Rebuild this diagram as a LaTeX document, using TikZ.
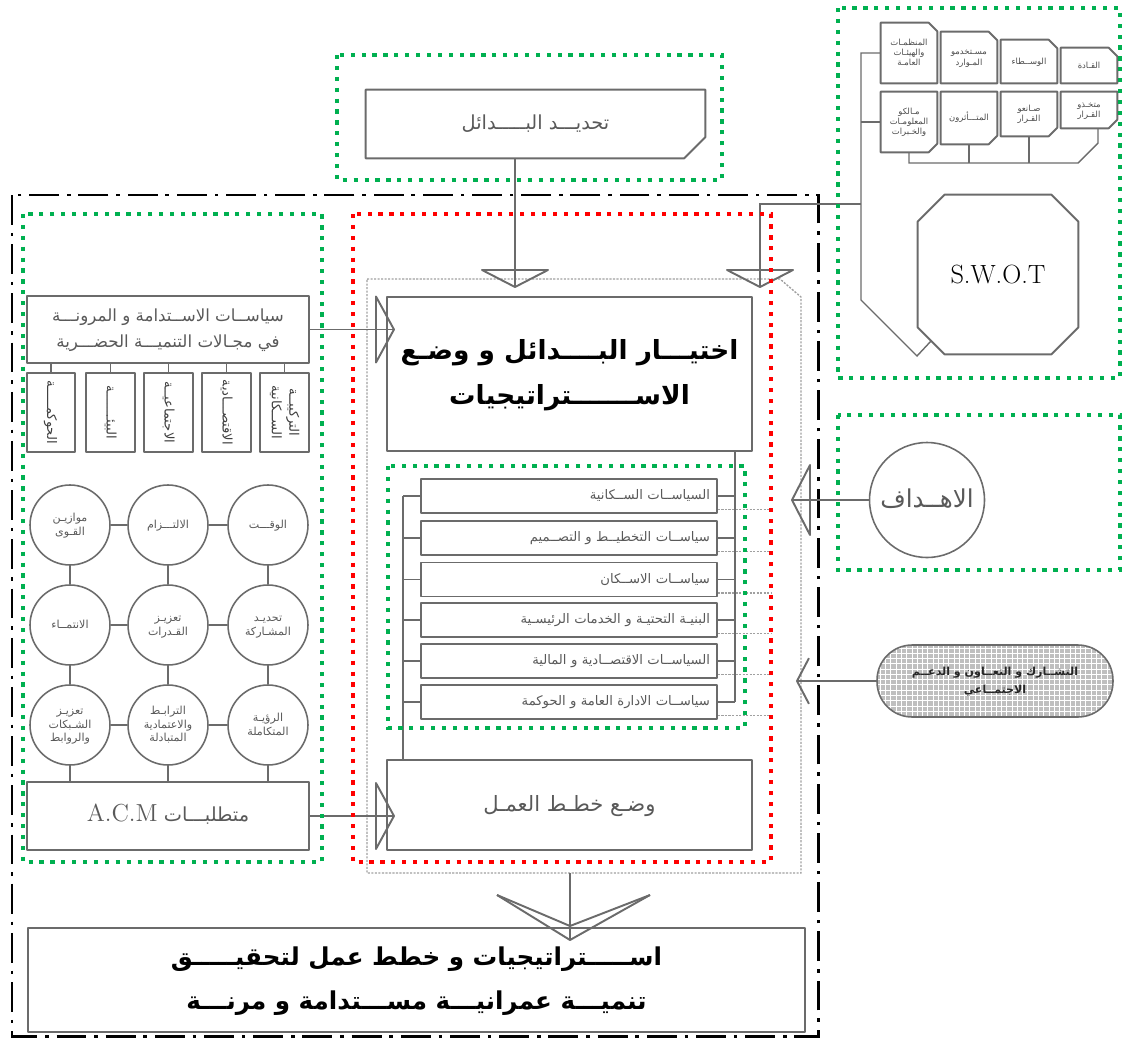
\documentclass[tikz,border=0pt]{standalone}
\usepackage{fontspec}
\newfontfamily\arabicfont[Script=Arabic]{DejaVu Sans}
\TeXXeTstate=1
\usepackage{tikz}
\usetikzlibrary{calc,fit,patterns}
\definecolor{stroke}{HTML}{6B6B6B}
\definecolor{ink}{HTML}{595959}
\definecolor{grn}{HTML}{00B050}
\definecolor{redd}{HTML}{FF0000}
\definecolor{dim}{HTML}{A0A0A0}
\newcommand{\artxt}[1]{\raisebox{0pt}[0.72em][0.12em]{\arabicfont\beginR #1\endR}}
\newcommand{\cutse}[2]{\draw[base] (#1.north west) -- (#1.north east) -- ([yshift=#2]#1.south east) -- ([xshift=-#2]#1.south east) -- (#1.south west) -- cycle;}
\newcommand{\cutne}[2]{\draw[base] (#1.south west) -- (#1.north west) -- ([xshift=-#2]#1.north east) -- ([yshift=-#2]#1.north east) -- (#1.south east) -- cycle;}
\tikzset{
  base/.style={draw=stroke, line width=1.1pt, line join=round},
  thin/.style={draw=stroke, line width=0.8pt},
  box/.style={base, rectangle, inner sep=0pt},
  plain/.style={rectangle, inner sep=0pt},
  zone/.style={draw=grn, line width=2.4pt, dash pattern=on 2.4pt off 3.8pt},
  zonered/.style={zone, draw=redd},
  frame/.style={draw=black, line width=1.7pt, dash pattern=on 17pt off 4.5pt on 2pt off 4.5pt},
  help/.style={draw=dim, line width=0.8pt, dash pattern=on 1.2pt off 0.8pt},
  lab/.style={text=ink, align=center, font=\fontsize{8}{10}\selectfont},
  labs/.style={text=ink, align=center, font=\fontsize{6.3}{7.6}\selectfont},
  labt/.style={text=black!70, align=center, font=\fontsize{4.8}{5.8}\selectfont},
  head/.style={text=black, align=center, font=\bfseries\fontsize{14}{25}\selectfont},
  circ/.style={circle, draw=stroke, line width=0.9pt, minimum size=1.6cm, inner sep=0pt, labs},
  pol/.style={base, rectangle, minimum width=5.92cm, minimum height=0.68cm, inner ysep=0pt, inner xsep=0.14cm,
    text width=5.64cm, align=right, text=ink, font=\fontsize{7.5}{9}\selectfont},
}

\begin{document}
\begin{tikzpicture}[x=0.02cm, y=-0.02cm]
  \useasboundingbox (0,0) rectangle (1123,1038);
  \draw[frame] (12,195) rectangle (818,1036);
  \draw[help] (367,279) -- (780,279) -- (801,297) -- (801,873) -- (367,873) -- cycle;

  % alternatives
  \node[plain, lab, font=\fontsize{11}{13}\selectfont, minimum width=6.78cm, minimum height=1.36cm] (alt) at (535.5,124)
    {\artxt{تحديـــد البـــــدائل}};
  \cutse{alt}{12pt}

  % SWOT
  \node[plain, font=\fontsize{15}{18}\selectfont, minimum width=3.2cm, minimum height=3.18cm] (swot) at (998,274.5) {S.W.O.T};
  \draw[base] ([xshift=15.3pt]swot.north west) -- ([xshift=-15.3pt]swot.north east) -- ([yshift=-15.3pt]swot.north east)
    -- ([yshift=15.3pt]swot.south east) -- ([xshift=-15.3pt]swot.south east) -- ([xshift=15.3pt]swot.south west)
    -- ([yshift=15.3pt]swot.south west) -- ([yshift=-15.3pt]swot.north west) -- cycle;
  \node[plain, labt, minimum width=1.12cm, minimum height=1.2cm] (s1) at (909,53) {\artxt{المنظمـات}\\\artxt{والهيئـات}\\\artxt{العامـة}};
  \node[plain, labt, minimum width=1.12cm, minimum height=1.02cm] (s2) at (969,57.5) {\artxt{مسـتخدمو}\\\artxt{المـوارد}};
  \node[plain, labt, minimum width=1.12cm, minimum height=0.86cm] (s3) at (1029,61.5) {\artxt{الوســطاء}};
  \node[plain, labt, minimum width=1.12cm, minimum height=0.7cm] (s4) at (1089,65.5) {\artxt{القـادة}};
  \node[plain, labt, minimum width=1.12cm, minimum height=1.2cm] (s5) at (909,122) {\artxt{مـالكو}\\\artxt{المعلومـات}\\\artxt{والخـبرات}};
  \node[plain, labt, minimum width=1.12cm, minimum height=1.04cm] (s6) at (969,118) {\artxt{المتـــأثرون}};
  \node[plain, labt, minimum width=1.12cm, minimum height=0.88cm] (s7) at (1029,114) {\artxt{صـانعو}\\\artxt{القـرار}};
  \node[plain, labt, minimum width=1.12cm, minimum height=0.72cm] (s8) at (1089,110) {\artxt{متخـذو}\\\artxt{القـرار}};
  \foreach \n in {s1,s2,s3,s4} {\cutne{\n}{5pt}}
  \foreach \n in {s5,s6,s7,s8} {\cutse{\n}{5pt}}
  \coordinate (sj) at (861,204);
  \draw[thin] (s1.west) -- (s1.west -| sj) -- (sj |- 0,300) -- (917,356) -- ([xshift=7.6pt,yshift=7.6pt]swot.south west);
  \draw[thin] (s5.west) -- (s5.west -| sj);
  \draw[thin] (s5.south) -- (s5.south |- 0,163) -- (1078,163) -- (1098,143) -- (s8.south -| 1098,0);
  \draw[thin] (s6.south) -- (s6.south |- 0,163);
  \draw[thin] (s7.south) -- (s7.south |- 0,163);

  % choosing and strategies
  \coordinate (ta) at (515,287);
  \coordinate (tb) at (760,287);
  \draw[thin] (alt.south -| ta) -- (ta);
  \draw[thin] (sj) -- (sj -| tb) -- (tb);
  \draw[base] (ta) -- ++(-33,-17) -- ++(66,0) -- cycle;
  \draw[base] (tb) -- ++(-33,-17) -- ++(66,0) -- cycle;
  \node[box, head, font=\bfseries\fontsize{15}{26}\selectfont, minimum width=7.3cm, minimum height=3.08cm] (choose) at (569.5,374)
    {\artxt{اختيـــار البــــدائل و وضـع}\\\artxt{الاســـــــتراتيجيات}};

  \node[pol] (p1) at (569,496) {\artxt{السياســات الســكانية}};
  \node[pol] (p2) at (569,538) {\artxt{سياســات التخطيــط و التصــميم}};
  \node[pol] (p3) at (569,579.5) {\artxt{سياســات الاســكان}};
  \node[pol] (p4) at (569,620) {\artxt{البنيـة التحتيـة و الخدمات الرئيسـية}};
  \node[pol] (p5) at (569,661) {\artxt{السياســات الاقتصــادية و المالية}};
  \node[pol] (p6) at (569,702) {\artxt{سياســات الادارة العامة و الحوكمة}};
  \node[box, lab, font=\fontsize{12}{14}\selectfont, minimum width=7.3cm, minimum height=1.8cm] (plan) at (569.5,805)
    {\artxt{وضـع خطـط العمـل}};
  \coordinate (bl) at (403,0);
  \coordinate (br) at (735,0);
  \draw[thin] (p1.west -| bl) -- (plan.north -| bl);
  \draw[thin] (choose.south -| br) -- (p6.east -| br);
  \foreach \i in {1,...,6} {
    \draw[thin] (p\i.west) -- (p\i.west -| bl);
    \draw[thin] (p\i.east) -- (p\i.east -| br);
    \draw[help] ([yshift=2.5pt]p\i.south east) -- ++(53,0);
  }

  % sustainability side
  \node[box, lab, font=\fontsize{9.5}{15}\selectfont, minimum width=5.64cm, minimum height=1.34cm] (sust) at (168,329.5)
    {\artxt{سياســات الاســتدامة و المرونـــة}\\\artxt{في مجـالات التنميـــة الحضـــرية}};
  \node[box, fit={(27,373) (75,452)}] (v1) {};
  \node[box, fit={(86,373) (135,452)}] (v2) {};
  \node[box, fit={(144,373) (193,452)}] (v3) {};
  \node[box, fit={(202,373) (251,452)}] (v4) {};
  \node[box, fit={(260,373) (309,452)}] (v5) {};
  \node[labs, text=black!75, font=\fontsize{7.5}{10}\selectfont, rotate=-90] at (v1) {\artxt{الحوكمـــــة}};
  \node[labs, text=black!75, font=\fontsize{7.5}{10}\selectfont, rotate=-90] at (v2) {\artxt{البيئـــــــة}};
  \node[labs, text=black!75, font=\fontsize{7.5}{10}\selectfont, rotate=-90] at (v3) {\artxt{الاجتماعيــة}};
  \node[labs, text=black!75, font=\fontsize{7.5}{10}\selectfont, rotate=-90] at (v4) {\artxt{الاقتصـــادية}};
  \node[labs, text=black!75, font=\fontsize{7.5}{10}\selectfont, rotate=-90] at (v5) {\artxt{التركيبــة}\\\artxt{الســكانية}};
  \foreach \i in {1,...,5} {\draw[thin] (v\i.north) -- (v\i.north |- sust.south);}

  \node[circ] (c11) at (70,525) {\artxt{موازيـن}\\\artxt{القـوى}};
  \node[circ] (c12) at (168,525) {\artxt{الالتـــزام}};
  \node[circ] (c13) at (268,525) {\artxt{الوقـــت}};
  \node[circ] (c21) at (70,625) {\artxt{الانتمــاء}};
  \node[circ] (c22) at (168,625) {\artxt{تعزيـز}\\\artxt{القـدرات}};
  \node[circ] (c23) at (268,625) {\artxt{تحديـد}\\\artxt{المشـاركة}};
  \node[circ] (c31) at (70,725) {\artxt{تعزيـز}\\\artxt{الشـبكات}\\\artxt{والروابط}};
  \node[circ] (c32) at (168,725) {\artxt{الترابـط}\\\artxt{والاعتمادية}\\\artxt{المتبادلة}};
  \node[circ] (c33) at (268,725) {\artxt{الرؤيـة}\\\artxt{المتكاملة}};
  \node[box, lab, font=\fontsize{11}{13}\selectfont, minimum width=5.64cm, minimum height=1.36cm] (acm) at (168,816)
    {\artxt{متطلبـــات \beginL{\normalfont\fontsize{14}{16}\selectfont A.C.M}\endL}};
  \foreach \r in {1,2,3} {\draw[thin] (c\r1) -- (c\r2) -- (c\r3);}
  \foreach \c in {1,2,3} {
    \draw[thin] (c1\c) -- (c2\c) -- (c3\c);
    \draw[thin] (c3\c.south) -- (c3\c.south |- acm.north);
  }

  % arrows into the red zone
  \coordinate (tl) at ([xshift=4.5pt]sust.east -| choose.west);
  \coordinate (tm) at ([xshift=4.5pt]acm.east -| plan.west);
  \draw[thin] (sust.east) -- (tl);
  \draw[thin] (acm.east) -- (tm);
  \draw[base] (tl) -- ++(-18,-33) -- ++(0,66) -- cycle;
  \draw[base] (tm) -- ++(-18,-33) -- ++(0,66) -- cycle;

  % goals and participation
  \node[circle, draw=stroke, line width=0.9pt, minimum size=2.3cm, inner sep=0pt, lab, font=\fontsize{14}{16}\selectfont] (goal) at (927,500) {\artxt{الاهــداف}};
  \node[rectangle, rounded corners=20pt, draw=stroke, line width=0.9pt, preaction={fill=gray!50}, pattern=grid, pattern color=white,
    inner sep=0pt, text=black!85, align=center, font=\bfseries\fontsize{6.3}{10}\selectfont, minimum width=4.72cm, minimum height=1.44cm] (part) at (995,681)
    {\artxt{التشــارك و التعــاون و الدعــم}\\\artxt{الاجتمــاعي}};
  \coordinate (tg) at (792,500);
  \coordinate (tp) at (797,681);
  \draw[thin] (goal.west) -- (tg);
  \draw[thin] (part.west) -- (tp);
  \draw[base] (tg) -- ++(18,-35) -- ++(0,70) -- cycle;
  \draw[base] ([xshift=6.8pt,yshift=13pt]tp) -- (tp) -- ([xshift=6.8pt,yshift=-13pt]tp);

  % result
  \node[box, head, font=\bfseries\fontsize{14}{25}\selectfont, minimum width=15.54cm, minimum height=2.08cm] (final) at (416.5,980)
    {\artxt{اســـــتراتيجيات و خطط عمل لتحقيـــــق}\\\artxt{تنميـــة عمرانيـــة مســـتدامة و مرنـــة}};
  \coordinate (tc) at (570,940);
  \draw[thin] (tc |- 0,873) -- (tc);
  \draw[base] (497,895) -- (tc) -- (650,895);
  \draw[base] (497,895) -- (570,926) -- (650,895);

  % zones
  \draw[zone] (337,55) rectangle (722,180);
  \draw[zone] (838,8) rectangle (1120,378);
  \draw[zone] (838,415) rectangle (1120,570);
  \draw[zone] (23,214) rectangle (322,862);
  \draw[zonered] (353,214) rectangle (771,862);
  \draw[zone] (388,466) rectangle (745,728);
\end{tikzpicture}
\end{document}
